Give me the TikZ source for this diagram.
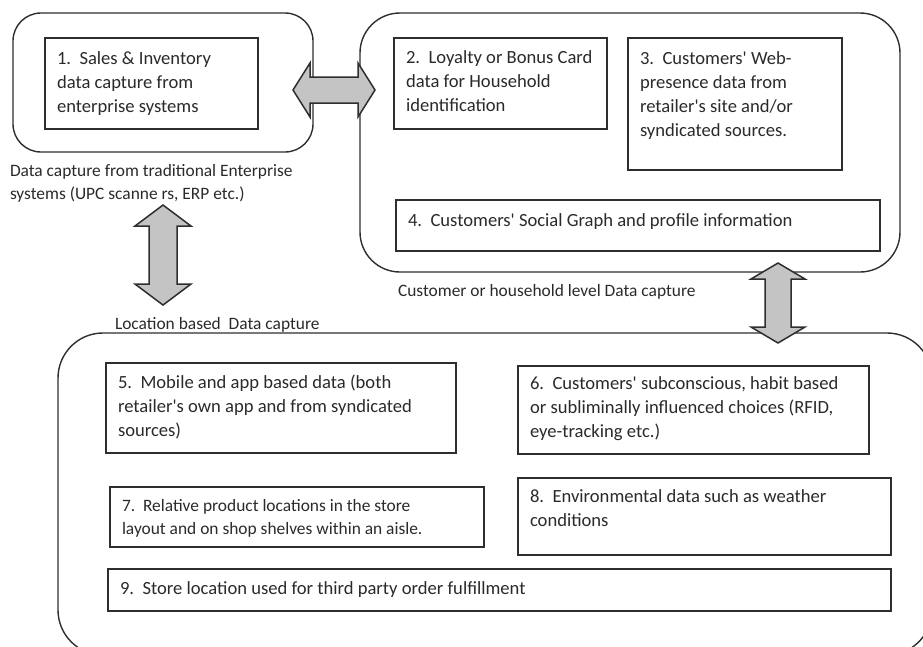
\documentclass[tikz,border=0pt]{standalone}
\usepackage{fontspec}
\setmainfont{Carlito}
\definecolor{ink}{HTML}{2E2E2E}
\definecolor{txtc}{HTML}{2A2A2A}
\definecolor{arrfill}{HTML}{C4C4C4}
\tikzset{
  outerbox/.style={draw=ink, line width=1.4pt, rounded corners=#1},
  inbox/.style={draw=ink, line width=1.7pt, inner sep=0pt, outer sep=0pt},
  txt/.style={text=txtc, inner sep=0pt, outer sep=0pt, align=left,
              font=\fontsize{18.6}{24}\selectfont},
  smalltxt/.style={txt, font=\fontsize{17.4}{23}\selectfont},
  arr/.style={draw=ink, line width=1.5pt, fill=arrfill, line join=miter},
}
\newcommand{\tbox}[8][txt]{%
  \node[inbox, anchor=north west, minimum width=#5, minimum height=#6] (#2) at (#3,#4) {};
  \node[#1, anchor=north west] (#2t) at ([shift={(12,#7)}]#2.north west) {\strut #8};
}
\newcommand{\dblarr}[8]{%
  \begin{scope}[shift={(#2,#3)}, rotate=#4]
    \coordinate (#1) at (0,0);
    \draw[arr] (-#5,0) -- (-#5+#6,-#7) -- (-#5+#6,-#8) -- (#5-#6,-#8) -- (#5-#6,-#7)
      -- (#5,0) -- (#5-#6,#7) -- (#5-#6,#8) -- (-#5+#6,#8) -- (-#5+#6,#7) -- cycle;
  \end{scope}}
\begin{document}
\begin{tikzpicture}[x=1pt,y=-1pt]
  \useasboundingbox (0,0) rectangle (923,646);
  \clip (0,0) rectangle (923,646);
  % outer rounded groups
  \draw[outerbox=28] (13,13) rectangle (313,152);
  \coordinate (A) at (163,82);
  \draw[outerbox=40] (360,13) rectangle (900,272);
  \coordinate (B) at (630,142);
  \draw[outerbox=45] (58,333) rectangle (932,655);
  \coordinate (C) at (490,490);
  % inner boxes
  \tbox{b1}{45}{38}{213}{91}{10}{1.\ \ Sales \& Inventory\\data capture from\\enterprise systems}
  \tbox{b2}{394}{38}{213}{91}{9}{2.\ \ Loyalty or Bonus Card\\data for Household\\identification}
  \tbox{b3}{628}{38}{214}{132}{9.5}{3.\ \ Customers\textquotesingle\ Web-\\presence data from\\retailer\textquotesingle s site and/or\\syndicated sources.}
  \tbox{b4}{396}{200}{484}{51}{9.5}{4.\ \ Customers\textquotesingle\ Social Graph and profile information}
  \tbox{b5}{106}{363}{350}{90}{8.5}{5.\ \ Mobile and app based data (both\\retailer\textquotesingle s own app and from syndicated\\sources)}
  \tbox{b6}{518}{366}{351}{88}{7}{6.\ \ Customers\textquotesingle\ subconscious, habit based\\or subliminally influenced choices (RFID,\\eye-tracking etc.)}
  \tbox[smalltxt]{b7}{110}{487}{374}{60}{8}{7.\ \ Relative product locations in the store\\layout and on shop shelves within an aisle.}
  \tbox{b8}{518}{478}{373}{77}{7.5}{8.\ \ Environmental data such as weather\\conditions}
  \tbox{b9}{108}{569}{783}{42}{8.5}{9.\ \ Store location used for third party order fulfillment}
  % group labels
  \node[smalltxt, anchor=north west] (lA) at (10,160) {\strut Data capture from traditional Enterprise\\systems (UPC scanne rs, ERP etc.)};
  \node[smalltxt, anchor=north west] (lB) at (398,280) {\strut Customer or household level Data capture};
  \node[smalltxt, anchor=north west] (lC) at (115,313) {\strut Location based\ \ Data capture};
  % double arrows
  \dblarr{ah}{334}{90}{0}{41}{17}{27}{13}
  \dblarr{av1}{163}{255}{90}{50}{21}{28}{14}
  \dblarr{av2}{778}{303}{90}{40}{16}{27}{13}
\end{tikzpicture}
\end{document}
